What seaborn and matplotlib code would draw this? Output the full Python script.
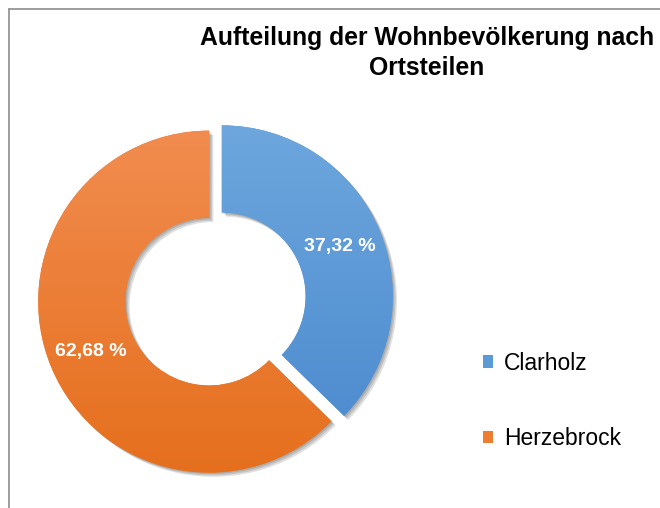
import numpy as np
import seaborn as sns
import matplotlib.pyplot as plt
import matplotlib.patheffects as pe
from matplotlib.colors import LinearSegmentedColormap
from matplotlib.patches import Patch
from matplotlib.lines import Line2D

# Daten: Wohnbevölkerung nach Ortsteilen (Anteile in %)
ortsteile = ['Clarholz', 'Herzebrock']
anteile = [37.32, 62.68]
farben_hell = ['#6FA8DE', '#F28E52']
farben_dunkel = ['#4787CD', '#E56E1B']
farben_legende = ['#5B9BD5', '#ED7D31']
titel = 'Aufteilung der Wohnbevölkerung nach\nOrtsteilen'


def plt_donut():
    sns.set_theme(style='white')
    plt.rcParams['font.family'] = ['Liberation Sans', 'DejaVu Sans']
    plt.rcParams['text.color'] = 'black'

    fig = plt.figure(figsize=(6.6, 5.08), dpi=100)
    W, H = 660, 508
    R = 171  # Radius in Pixel
    cx, cy = 215.5, H - 299
    lim = 1.1
    ax = fig.add_axes([(cx - lim * R) / W, (cy - lim * R) / H, 2 * lim * R / W, 2 * lim * R / H])

    wedges, texts, autotexts = ax.pie(
        anteile, startangle=90, counterclock=False, explode=[0.04, 0.04],
        radius=1, pctdistance=0.75,
        autopct=lambda p: '{:.2f} %'.format(p).replace('.', ','),
        wedgeprops=dict(width=0.51, linewidth=0),
        colors=farben_legende,
    )

    schatten = [pe.SimplePatchShadow(offset=(o, -o), shadow_rgbFace='black', alpha=0.12) for o in (1, 2, 3)]
    for i, w in enumerate(wedges):
        w.set_path_effects(schatten + [pe.Normal()])
        cmap = LinearSegmentedColormap.from_list('g', [farben_hell[i], farben_dunkel[i]])
        grad = np.linspace(0, 1, 256).reshape(-1, 1)
        img = ax.imshow(grad, cmap=cmap, extent=(-1.1, 1.1, -1.1, 1.1), origin='upper',
                        aspect='auto', zorder=1.5)
        img.set_clip_path(w)

    for t in autotexts:
        t.set_color('white')
        t.set_fontweight('bold')
        t.set_fontsize(14)
        t.set_zorder(3)

    ax.set_xlim(-lim, lim)
    ax.set_ylim(-lim, lim)
    ax.set_aspect('equal')
    ax.axis('off')

    fig.text(427 / W, 1 - 26 / H, titel, ha='center', va='top', fontsize=17.8,
             fontweight='bold', linespacing=1.3, color='black')

    handles = [Patch(facecolor=c, edgecolor='none') for c in farben_legende]
    fig.legend(handles, ortsteile, loc='center left', bbox_to_anchor=(483 / W, 1 - 401 / H),
               frameon=False, fontsize=16.5, handlelength=0.45, handleheight=0.45,
               handletextpad=0.45, labelspacing=2.3, borderpad=0, borderaxespad=0,
               labelcolor='black')

    # Rahmen oben und links
    fig.add_artist(Line2D([9 / W, 9 / W], [0, 1 - 9 / H], color='#8c8c8c', lw=1.2))
    fig.add_artist(Line2D([9 / W, 1], [1 - 9 / H, 1 - 9 / H], color='#8c8c8c', lw=1.2))

    plt.savefig('out.png', dpi=100)


if __name__ == '__main__':
    plt_donut()
